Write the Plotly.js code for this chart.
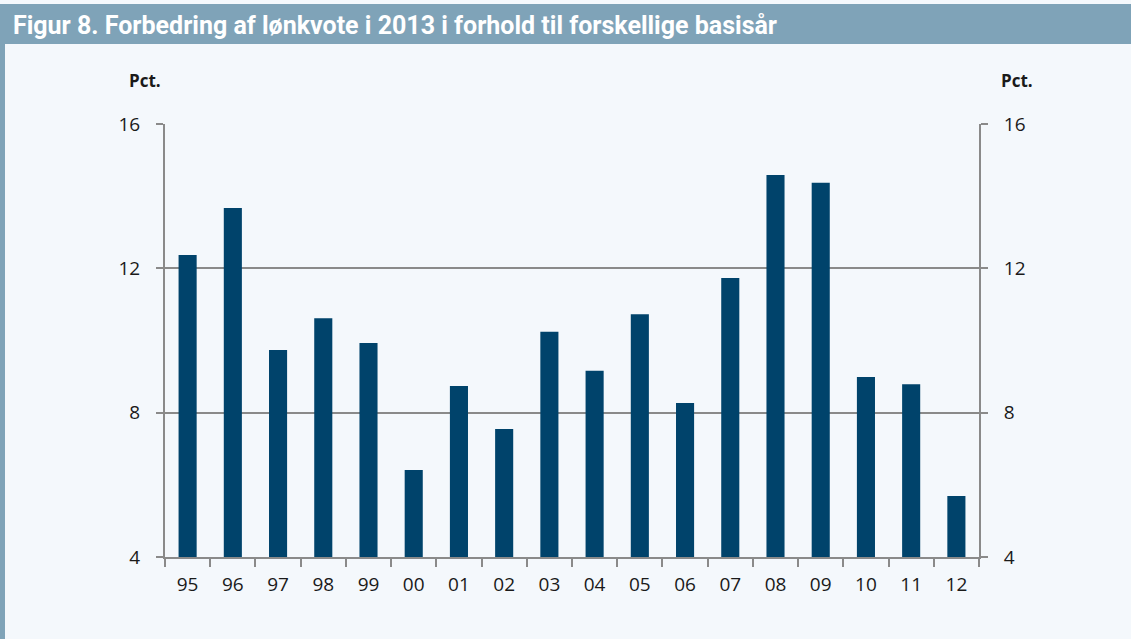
<!DOCTYPE html>
<html>
<head>
<meta charset="utf-8">
<script src="https://cdn.plot.ly/plotly-3.0.1.min.js"></script>
<style>
html,body{margin:0;padding:0;background:#f4f8fc;}
#chart{width:1131px;height:639px;}
</style>
</head>
<body>
<div id="chart"></div>
<script>
const categories = ["95","96","97","98","99","00","01","02","03","04","05","06","07","08","09","10","11","12"];
const values = [12.37,13.67,9.74,10.62,9.93,6.41,8.74,7.55,10.24,9.16,10.73,8.27,11.73,14.59,14.37,8.99,8.79,5.69];
const redCategory = "95";
const redValue = 3.93;
const yTicks = [4,8,12,16];

const gray = '#8a8a8a';
const fontFam = '"Open Sans", "Noto Sans", sans-serif';
const barGap = 0.6;
const halfBar = (1 - barGap) / 2;
const redIdx = categories.indexOf(redCategory);

const traces = [
  {
    type: 'bar',
    x: categories,
    y: values,
    marker: {color: '#00436b'},
    hoverinfo: 'x+y'
  },
  {
    type: 'scatter',
    mode: 'lines',
    x: [redIdx - halfBar, redIdx + halfBar],
    y: [redValue, redValue],
    xaxis: 'x2',
    cliponaxis: false,
    line: {color: '#c0504d', width: 3},
    hoverinfo: 'skip'
  },
  {
    type: 'scatter',
    mode: 'markers',
    x: [categories[0]],
    y: [10],
    yaxis: 'y2',
    marker: {opacity: 0},
    hoverinfo: 'skip'
  }
];

const axisY = {
  range: [4, 16],
  tickvals: yTicks,
  ticktext: yTicks.map(String),
  showgrid: true,
  gridcolor: gray,
  gridwidth: 2,
  zeroline: false,
  showline: true,
  linecolor: gray,
  linewidth: 2,
  ticks: 'outside',
  ticklen: 7,
  tickwidth: 2,
  tickcolor: gray,
  ticklabelstandoff: 12,
  tickfont: {family: fontFam, size: 19, color: '#1a1a1a'},
  fixedrange: true
};

const layout = {
  width: 1131,
  height: 639,
  margin: {l: 165, r: 152, t: 124, b: 82},
  paper_bgcolor: '#f4f8fc',
  plot_bgcolor: '#f4f8fc',
  showlegend: false,
  bargap: barGap,
  xaxis: {
    type: 'category',
    categoryorder: 'array',
    categoryarray: categories,
    range: [-0.5, categories.length - 0.5],
    showline: true,
    linecolor: gray,
    linewidth: 2,
    ticks: 'outside',
    tickson: 'boundaries',
    ticklen: 8,
    tickwidth: 2,
    tickcolor: gray,
    ticklabelstandoff: 9,
    showgrid: false,
    tickfont: {family: fontFam, size: 19, color: '#1a1a1a'},
    fixedrange: true
  },
  xaxis2: {
    type: 'linear',
    overlaying: 'x',
    range: [-0.5, categories.length - 0.5],
    visible: false,
    fixedrange: true
  },
  yaxis: Object.assign({}, axisY, {side: 'left'}),
  yaxis2: Object.assign({}, axisY, {side: 'right', overlaying: 'y', showgrid: false}),
  shapes: [
    {type: 'rect', xref: 'paper', yref: 'paper',
     x0: (5-165)/814, x1: (1131-165)/814, y0: (557-44)/433, y1: (557-4)/433,
     fillcolor: '#7fa3b8', line: {width: 0}, layer: 'below'},
    {type: 'rect', xref: 'paper', yref: 'paper',
     x0: (0-165)/814, x1: (5-165)/814, y0: (557-639)/433, y1: (557-4)/433,
     fillcolor: '#7fa3b8', line: {width: 0}, layer: 'below'}
  ],
  annotations: [
    {text: '<b>Figur 8. Forbedring af lønkvote i 2013 i forhold til forskellige basisår</b>',
     xref: 'paper', yref: 'paper', x: (11-165)/814, y: (557-25)/433,
     xanchor: 'left', yanchor: 'middle', showarrow: false,
     font: {family: 'Roboto, sans-serif', size: 25, color: '#ffffff'}},
    {text: '<b>Pct.</b>', xref: 'paper', yref: 'paper', x: (145-165)/814, y: (557-81)/433,
     xanchor: 'center', yanchor: 'middle', showarrow: false,
     font: {family: fontFam, size: 17, color: '#1a1a1a'}},
    {text: '<b>Pct.</b>', xref: 'paper', yref: 'paper', x: (1017-165)/814, y: (557-81)/433,
     xanchor: 'center', yanchor: 'middle', showarrow: false,
     font: {family: fontFam, size: 17, color: '#1a1a1a'}}
  ]
};

Plotly.newPlot('chart', traces, layout, {displayModeBar: false, staticPlot: true});
</script>
</body>
</html>
